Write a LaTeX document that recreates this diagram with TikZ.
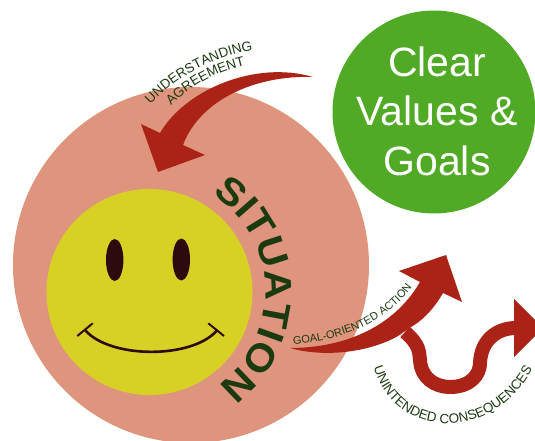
\documentclass[tikz,border=0pt]{standalone}
\usepackage{fontspec}
\setmainfont{Liberation Sans}
\newfontfamily\sitfont[FakeStretch=1.1]{Liberation Sans}
\usetikzlibrary{decorations.text}
\definecolor{pinkc}{HTML}{DF957D}
\definecolor{yell}{HTML}{D7D126}
\definecolor{grn}{HTML}{50AA25}
\definecolor{arr}{HTML}{AB2217}
\definecolor{dk}{HTML}{1B3A10}
\definecolor{brn}{HTML}{2C0A0E}
\tikzset{
  arrowshape/.style={fill=arr,draw=none},
  curved/.style n args={2}{decorate,decoration={text along path,text align=center,text color=dk,text={|#1|#2}}},
}
\begin{document}
\begin{tikzpicture}[x=1pt,y=-1pt]
\useasboundingbox (0,0) rectangle (535,441);
\fill[white] (0,0) rectangle (535,441);
\begin{scope}
\clip (0,0) rectangle (535,441);
\fill[pinkc] (191,265) circle[radius=178];
\fill[yell] (149.5,292) circle[radius=103];
\fill[grn] (434,112) circle[radius=101.5];
\end{scope}
\node[text=white,font=\fontsize{41}{49.5}\selectfont,align=center] (goals) at (437,111) {Clear\\Values \&\\Goals};
% face
\fill[brn] (114.7,260) ellipse[x radius=8.7,y radius=21];
\fill[brn] (181.3,259.5) ellipse[x radius=8.7,y radius=21];
\draw[brn,line width=2.6pt] (85,330) .. controls (110,359) and (192,359) .. (216.7,330.7);
\draw[brn,line width=2pt] (77.3,336) -- (92.7,323.3);
\draw[brn,line width=2pt] (208.3,323.3) -- (224,336);
% top arrow
\path[arrowshape] (313,77) .. controls (255,60) and (185,90) .. (160,133)
 -- (141,124) -- (158,172) -- (205,155) -- (183,145)
 .. controls (200,100) and (255,75) .. (313,77) -- cycle;
% goal arrow
\path[arrowshape] (290,348) .. controls (340,348) and (392,330) .. (420,282)
 -- (399,271) -- (446,255) -- (462,302) -- (443,293)
 .. controls (432,312) and (420,322) .. (411,327)
 -- (398,336) .. controls (370,352) and (325,358) .. (290,348) -- cycle;
% branch
\draw[arr,line width=14pt] (405,332) .. controls (420,345) and (419,352) .. (420,360)
 .. controls (421,378) and (435,387) .. (450,387)
 .. controls (470,387) and (480,375) .. (480,363)
 .. controls (481,340) and (497,328) .. (516,328);
\begin{scope}
\clip (0,0) rectangle (535,441);
\path[arrowshape] (514,299) -- (543,328) -- (514,357) -- cycle;
\end{scope}
% texts
\path[curved={\fontsize{13.5}{15}\selectfont}{UNDERSTANDING}] (147,108) .. controls (175,76) and (215,56) .. (258,49);
\path[curved={\fontsize{13.5}{15}\selectfont}{AGREEMENT}] (170,107) .. controls (190,86) and (215,72) .. (247,65);
\path[curved={\fontsize{11}{13}\selectfont}{GOAL-ORIENTED ACTION}] (293,344) .. controls (335,342) and (385,325) .. (412,287);
\path[curved={\fontsize{13.4}{16}\selectfont}{UNINTENDED CONSEQUENCES}] (374,368) .. controls (395,438) and (490,445) .. (532,370);
\path[curved={\sitfont\fontsize{38}{42}\selectfont\bfseries}{SITUATION}] (207.5,191.5) .. controls (242.1,211.5) and (264,248) .. (265.4,288) .. controls (266.8,328) and (247.6,365.8) .. (214.4,388.2);
\end{tikzpicture}
\end{document}
